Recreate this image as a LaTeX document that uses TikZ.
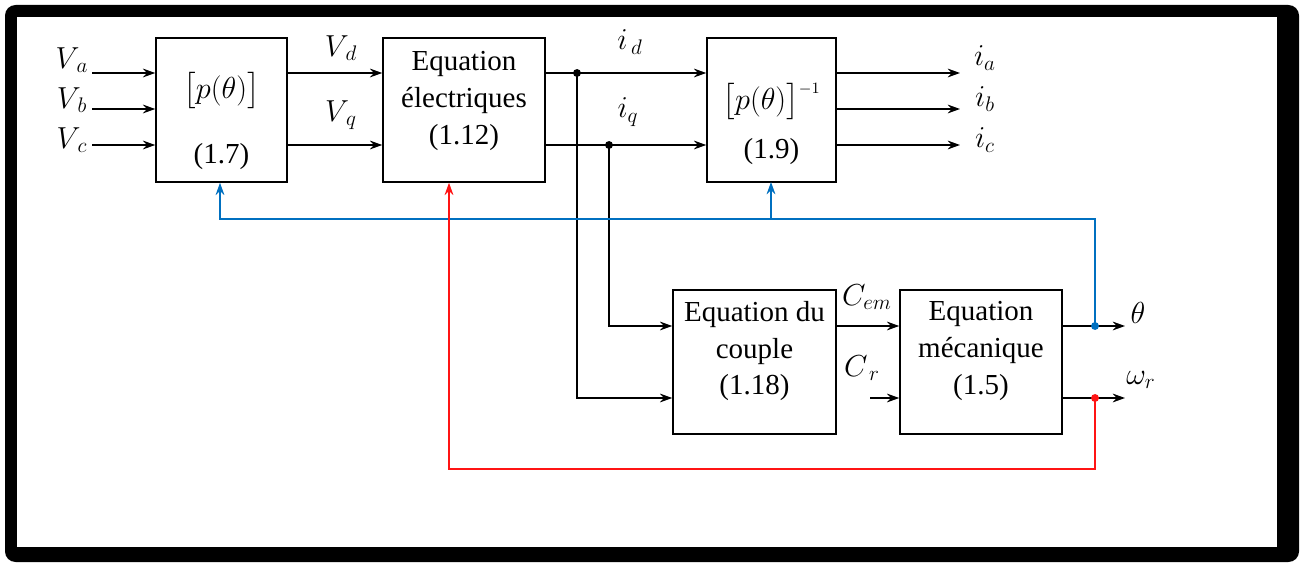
\documentclass[tikz,border=0pt]{standalone}
\usepackage{amsmath}
\usepackage{fontspec}
\setmainfont{Liberation Serif}
\usetikzlibrary{arrows.meta,positioning,calc}
\definecolor{fbblue}{RGB}{0,112,192}
\definecolor{fbred}{RGB}{255,20,20}
\newcommand{\mathline}[1]{{\fontsize{19}{22}\selectfont#1}}
\tikzset{
  blockbox/.style={draw, line width=0.9pt, minimum height=2.88cm, align=center,
    inner sep=0pt, font=\fontsize{16.5}{21}\selectfont},
  sig/.style={line width=0.9pt, -{Stealth[length=7pt,width=5pt]}},
  siglab/.style={inner sep=0pt, font=\fontsize{18}{20}\selectfont},
  junc/.style={circle, fill, inner sep=0pt, minimum size=4.5pt},
}
\begin{document}
\begin{tikzpicture}[x=0.02cm, y=-0.02cm]
  \useasboundingbox (0,0) rectangle (1302,564);
  % cadre
  \fill[black, rounded corners=6pt] (5,5) rectangle (1299,562);
  \fill[white] (17,17) rectangle (1277,547);

  % blocs
  \node[blockbox, minimum width=2.62cm] (pmat) at (221.5,110)
    {\mathline{\rule{0pt}{27pt}$\bigl[p(\theta)\bigr]$}\\[16pt](1.7)};
  \node[blockbox, minimum width=3.24cm] (elec) at (464,110)
    {Equation\\électriques\\(1.12)\\[-7pt]\mbox{}};
  \node[blockbox, minimum width=2.58cm] (pinv) at (771.5,110)
    {\mathline{\rule{0pt}{31pt}$\bigl[p(\theta)\bigr]^{\scriptscriptstyle -1}$}\\[7pt](1.9)};
  \node[blockbox, minimum width=3.26cm] (couple) at (754.5,362)
    {Equation du\\couple\\(1.18)\\[-5pt]\mbox{}};
  \node[blockbox, minimum width=3.24cm] (meca) at (981,362)
    {Equation\\mécanique\\(1.5)\\[-5pt]\mbox{}};

  % entrées Va, Vb, Vc
  \coordinate (va) at (92,73);
  \coordinate (vb) at (92,109);
  \coordinate (vc) at (92,145);
  \draw[sig] (va) -- (va -| pmat.west);
  \draw[sig] (vb) -- (vb -| pmat.west);
  \draw[sig] (vc) -- (vc -| pmat.west);
  \node[siglab] (lva) at (72,60) {$V_{\,a}$};
  \node[siglab] (lvb) at (72,100) {$V_{\,b}$};
  \node[siglab] (lvc) at (72,140) {$V_{\,c}$};

  % Vd, Vq
  \draw[sig] (va -| pmat.east) -- (va -| elec.west);
  \draw[sig] (vc -| pmat.east) -- (vc -| elec.west);
  \node[siglab] (lvd) at (341,48) {$V_{\,d}$};
  \node[siglab] (lvq) at (341,115) {$V_{\,q}$};

  % id, iq
  \coordinate (jd) at (577,73);
  \coordinate (jq) at (609,145);
  \draw[sig] (va -| elec.east) -- (va -| pinv.west);
  \draw[sig] (vc -| elec.east) -- (vc -| pinv.west);
  \node[junc] at (jd) {};
  \node[junc] at (jq) {};
  \node[siglab] (lid) at (630,42) {$i_{\,d}$};
  \node[siglab] (liq) at (628,112) {$i_q$};
  \coordinate (cq) at (0,326);
  \coordinate (cd) at (0,398);
  \draw[sig] (jq) -- (jq |- cq) -- (cq -| couple.west);
  \draw[sig] (jd) -- (jd |- cd) -- (cd -| couple.west);

  % sorties ia, ib, ic
  \coordinate (oa) at (960,73);
  \coordinate (ob) at (960,109);
  \coordinate (oc) at (960,145);
  \draw[sig] (oa -| pinv.east) -- (oa);
  \draw[sig] (ob -| pinv.east) -- (ob);
  \draw[sig] (oc -| pinv.east) -- (oc);
  \node[siglab] (lia) at (985,58) {$i_a$};
  \node[siglab] (lib) at (985,99) {$i_b$};
  \node[siglab] (lic) at (985,140) {$i_c$};

  % Cem, Cr
  \coordinate (cr) at (870,398);
  \draw[sig] (cq -| couple.east) -- (cq -| meca.west);
  \draw[sig] (cr) -- (cr -| meca.west);
  \node[siglab] (lcem) at (867,297) {$C_{em}$};
  \node[siglab] (lcr) at (862,368) {$C_{\,r}$};

  % theta, omega
  \coordinate (oth) at (1125,326);
  \coordinate (oom) at (1125,398);
  \coordinate (jth) at (1095,326);
  \coordinate (jom) at (1095,398);
  \draw[sig] (cq -| meca.east) -- (oth);
  \draw[sig] (cd -| meca.east) -- (oom);
  \node[siglab] (lth) at (1138,313) {$\theta$};
  \node[siglab] (lom) at (1141,380) {$\omega_r$};

  % retour theta (bleu)
  \coordinate (bl) at (220,219);
  \draw[sig, fbblue] (jth) -- (jth |- bl) -- (bl) -- (bl |- pmat.south);
  \draw[sig, fbblue] (771,219) -- (771,182);
  \node[junc, fbblue] at (jth) {};

  % retour omega (rouge)
  \coordinate (rl) at (449,469);
  \draw[sig, fbred] (jom) -- (jom |- rl) -- (rl) -- (rl |- elec.south);
  \node[junc, fbred] at (jom) {};
\end{tikzpicture}
\end{document}
